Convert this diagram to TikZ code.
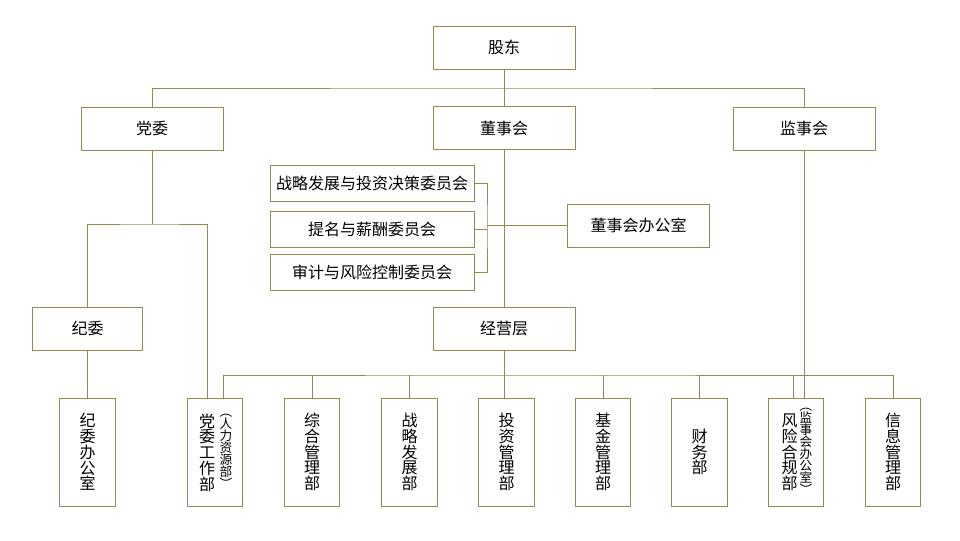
\documentclass[tikz,border=0pt]{standalone}
\usepackage{fontspec}
\setmainfont{Noto Sans CJK SC}
\definecolor{xian}{RGB}{148,138,84}
\tikzset{
  kuang/.style={draw=xian, line width=0.75pt, inner sep=0pt, font=\fontsize{12}{12}\selectfont},
  dakuang/.style={kuang, minimum width=106.5pt, minimum height=32.25pt},
  weiyuan/.style={kuang, minimum width=153pt, minimum height=27pt},
  shukuang/.style={kuang, minimum width=41.5pt, minimum height=81pt, align=center, font=\fontsize{12}{11.8}\selectfont},
  shuzi/.style={inner sep=0pt, align=center, font=\fontsize{12}{11.8}\selectfont},
  xiaozi/.style={inner sep=0pt, align=center, font=\fontsize{9.5}{9}\selectfont},
  lian/.style={draw=xian, line width=0.75pt}
}
\begin{document}
\begin{tikzpicture}[x=0.75pt,y=-0.75pt]
\useasboundingbox (0,0) rectangle (960,540);   % page size in px

    % top levels
    \node [dakuang] (gudong) at (504,47.5) {股东};
    \node [dakuang] (dangwei) at (152,128.5) {党委};
    \node [dakuang] (dongshihui) at (504,128) {董事会};
    \node [dakuang] (jianshihui) at (804,128.5) {监事会};

    % committees of the board
    \node [weiyuan] (wyh1) at (372,183.5) {战略发展与投资决策委员会};
    \node [weiyuan] (wyh2) at (372,229) {提名与薪酬委员会};
    \node [weiyuan] (wyh3) at (372,272) {审计与风险控制委员会};
    \node [dakuang] (dsbgs) at (638.5,225.5) {董事会办公室};

    \node [dakuang] (jingying) at (504,328.5) {经营层};
    \node [dakuang, minimum width=82.5pt] (jiwei) at (87.5,328.5) {纪委};

    % departments
    \node [shukuang] (jwbgs) at (87.5,452) {纪\\委\\办\\公\\室};
    \node [shukuang] (dwgzb) at (215,452) {};
    \node [shuzi] (dwgzb1) at (207,452.5) {党\\委\\工\\作\\部};
    \node [xiaozi] (dwgzb2) at (226,451.5) {︵\\人\\力\\资\\源\\部\\︶};
    \node [shukuang] (zhgl) at (312,452) {综\\合\\管\\理\\部};
    \node [shukuang] (zlfz) at (409.5,452) {战\\略\\发\\展\\部};
    \node [shukuang] (tzgl) at (506.5,452) {投\\资\\管\\理\\部};
    \node [shukuang] (jjgl) at (603,452) {基\\金\\管\\理\\部};
    \node [shukuang] (cwb) at (699.5,452) {财\\务\\部};
    \node [shukuang] (fxhg) at (796,452) {};
    \node [shuzi] (fxhg1) at (789.5,452.5) {风\\险\\合\\规\\部};
    \node [xiaozi] (fxhg2) at (806,451.5) {︵\\监\\事\\会\\办\\公\\室\\︶};
    \node [shukuang] (xxgl) at (893,452) {信\\息\\管\\理\\部};

    \coordinate (zongxian) at (504,88);         % top bus
    \coordinate (dwfen) at (152,224);           % party branch
    \coordinate (kuo) at (487,225.5);           % committee bracket
    \coordinate (bus) at (504,375);             % bottom bus

    \draw [lian] (gudong) -- (dongshihui);
    \draw [lian] (dangwei.north) |- (zongxian) -| (jianshihui.north);

    \draw [lian] (dangwei.south) -- (dwfen);
    \draw [lian] (jiwei.north) |- (dwfen) -| ([xshift=-6pt]dwgzb.north);
    \draw [lian] (jiwei) -- (jwbgs);

    \draw [lian] (wyh1.east) -| (kuo) |- (wyh3.east);
    \draw [lian] (wyh2.east) -- (wyh2.east -| kuo);
    \draw [lian] (kuo) -- (dsbgs.west);

    \draw [lian] (dongshihui.south) -- (jingying.north);
    \draw [lian] (jingying.south) -- (jingying.south |- tzgl.north);
    \draw [lian] ([xshift=6pt]dwgzb.north) |- (bus) -| (xxgl.north);
    \foreach \n in {zhgl,zlfz,jjgl,cwb}
        \draw [lian] (\n.north) -- (\n.north |- bus);
    \draw [lian] ([xshift=-2.25pt]fxhg.north) -- ([xshift=-2.25pt]fxhg.north |- bus);
    \draw [lian] (jianshihui.south) -- (jianshihui.south |- fxhg.north);   % supervisors' office

\end{tikzpicture}
\end{document}
